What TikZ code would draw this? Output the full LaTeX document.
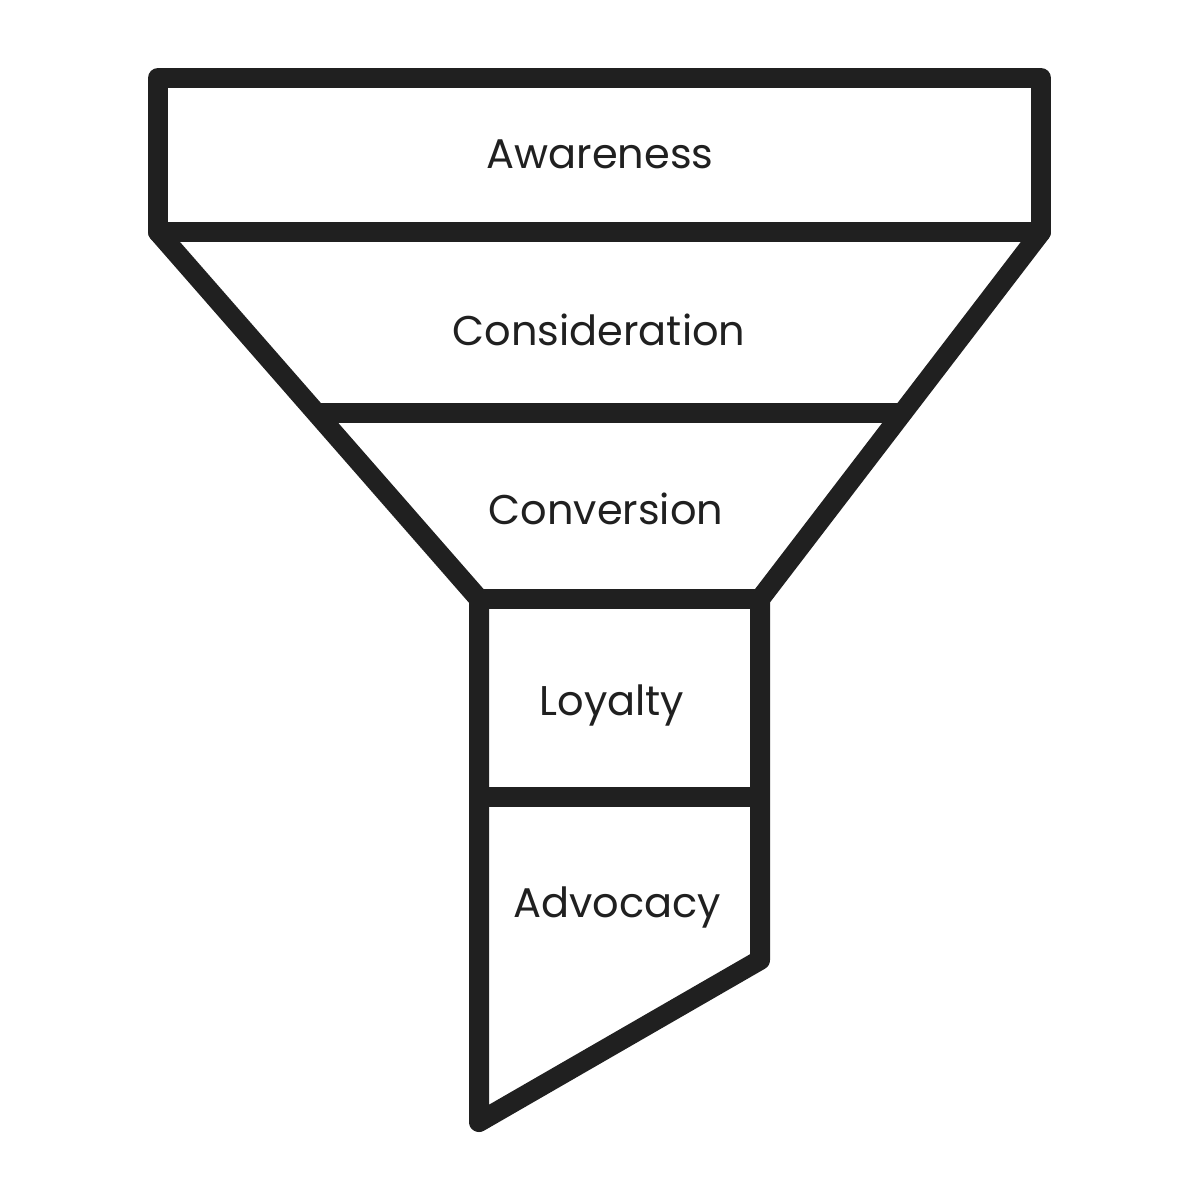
\documentclass[tikz,border=0pt]{standalone}
\usepackage{fontspec}
\setmainfont{Poppins}
\definecolor{ink}{HTML}{202020}
\begin{document}
\begin{tikzpicture}[x=1pt,y=-1pt,
  outline/.style={draw=ink,line width=20pt,line join=round,line cap=round},
  divider/.style={draw=ink,line width=20pt},
  label/.style={anchor=base,inner sep=0pt,text=ink,font=\fontsize{41.5}{48}\selectfont}]
\useasboundingbox[fill=white] (0,0) rectangle (1200,1200);
% key points
\coordinate (TL) at (158,78);
\coordinate (TR) at (1041,78);
\coordinate (BL) at (158,232);
\coordinate (BR) at (1041,232);
\coordinate (NL) at (479,599);
\coordinate (NR) at (760,599);
\coordinate (ML) at (316,413);
\coordinate (MR) at (902,413);
\coordinate (LL) at (479,797);
\coordinate (LR) at (760,797);
\coordinate (SB) at (479,1122);
\coordinate (SR) at (760,960);
% outer shape
\draw[outline] (TL) -- (TR) -- (BR) -- (BL) -- cycle;
\draw[outline] (BL) -- (NL) -- (SB) -- (SR) -- (NR) -- (BR);
% dividers
\draw[divider] (ML) -- (MR);
\draw[divider] (NL) -- (NR);
\draw[divider] (LL) -- (LR);
% labels
\node[label] (aw) at (600,168) {Awareness};
\node[label] (co) at (599,345) {Consideration};
\node[label] (cv) at (606,524) {Conversion};
\node[label] (lo) at (612,715) {Loyalty};
\node[label] (ad) at (617,917) {Advocacy};
\end{tikzpicture}
\end{document}
